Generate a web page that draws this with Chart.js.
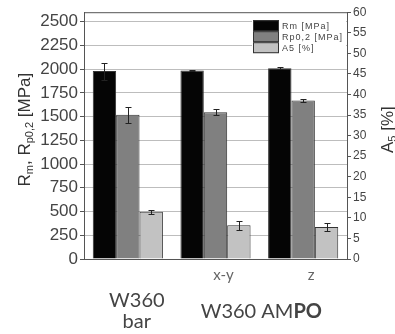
<!DOCTYPE html>
<html>
<head>
<meta charset="utf-8">
<script src="https://cdn.jsdelivr.net/npm/chart.js@4.4.1/dist/chart.umd.min.js"></script>
<style>
html, body { margin: 0; padding: 0; background: #fff; }
#wrap { width: 395px; height: 334px; }
</style>
</head>
<body>
<div id="wrap"><canvas id="chart" width="395" height="334"></canvas></div>
<script>
// === Data ===
const tickLabelsX = ["", "x-y", "z"];
const seriesNames = ["Rm [MPa]", "Rp0,2 [MPa]", "A5 [%]"];
const rmValues = [1980, 1985, 2010];
const rmErrors = [90, 8, 10];
const rpValues = [1520, 1545, 1670];
const rpErrors = [85, 30, 15];
const a5Values = [11.5, 8.2, 7.8];
const a5Errors = [0.5, 1.1, 0.9];
const leftTicks = [0, 250, 500, 750, 1000, 1250, 1500, 1750, 2000, 2250, 2500];
const rightTicks = [0, 5, 10, 15, 20, 25, 30, 35, 40, 45, 50, 55, 60];

const seriesColors = ["#050505", "#808080", "#c2c2c2"];
const errorSets = [rmErrors, rpErrors, a5Errors];

// === Plugins ===
const errorBarPlugin = {
    id: "errorBars",
    afterDatasetsDraw(chart) {
        const ctx = chart.ctx;
        ctx.save();
        ctx.strokeStyle = "#222";
        ctx.lineWidth = 1;
        chart.data.datasets.forEach((ds, i) => {
            const meta = chart.getDatasetMeta(i);
            const scale = chart.scales[meta.yAxisID];
            meta.data.forEach((bar, j) => {
                const v = ds.data[j];
                const e = errorSets[i][j];
                const yTop = Math.round(scale.getPixelForValue(v + e)) + 0.5;
                const yBot = Math.round(scale.getPixelForValue(v - e)) + 0.5;
                const x = Math.round(bar.x) + 0.5;
                ctx.beginPath();
                ctx.moveTo(x, yTop); ctx.lineTo(x, yBot);
                ctx.moveTo(x - 3, yTop); ctx.lineTo(x + 3, yTop);
                ctx.moveTo(x - 3, yBot); ctx.lineTo(x + 3, yBot);
                ctx.stroke();
            });
        });
        ctx.restore();
    }
};

const legendPlugin = {
    id: "boxLegend",
    afterDatasetsDraw(chart) {
        const ctx = chart.ctx;
        const area = chart.chartArea;
        const left = area.right - 95;
        const top = area.top + 6;
        ctx.save();
        ctx.fillStyle = "#fff";
        ctx.fillRect(left, top, 94, 38);
        ctx.font = "9px 'Liberation Sans', Arial, sans-serif";
        ctx.letterSpacing = "1px";
        ctx.textBaseline = "middle";
        chart.data.datasets.forEach((ds, i) => {
            const y = top + 2 + i * 11;
            ctx.fillStyle = ds.backgroundColor;
            ctx.fillRect(left + 1, y, 26, 11);
            ctx.strokeStyle = "#333";
            ctx.lineWidth = 1;
            ctx.strokeRect(left + 1.5, y + 0.5, 25, 10);
            ctx.fillStyle = "#444";
            ctx.fillText(ds.label, left + 30, y + 6);
        });
        ctx.restore();
    }
};

function drawRich(ctx, parts, x, y, size) {
    // parts: [text, isSub]
    const big = size + "px 'Liberation Sans', Arial, sans-serif";
    const small = Math.round(size * 0.62) + "px 'Liberation Sans', Arial, sans-serif";
    let total = 0;
    parts.forEach(p => { ctx.font = p[1] ? small : big; total += ctx.measureText(p[0]).width; });
    let cx = x - total / 2;
    parts.forEach(p => {
        ctx.font = p[1] ? small : big;
        ctx.fillText(p[0], cx, p[1] ? y + size * 0.3 : y);
        cx += ctx.measureText(p[0]).width;
    });
}

const titlesPlugin = {
    id: "titles",
    afterDraw(chart) {
        const ctx = chart.ctx;
        const area = chart.chartArea;
        const midY = (area.top + area.bottom) / 2 - 6;
        ctx.save();
        // plot frame
        ctx.strokeStyle = "#555";
        ctx.lineWidth = 1;
        ctx.strokeRect(area.left + 0.5, area.top + 0.5, area.right - area.left, area.bottom - area.top);

        ctx.fillStyle = "#333";
        ctx.textBaseline = "middle";
        ctx.save();
        ctx.translate(25, midY);
        ctx.rotate(-Math.PI / 2);
        drawRich(ctx, [["R", false], ["m", true], [", R", false], ["p0,2", true], [" [MPa]", false]], 0, 0, 17);
        ctx.restore();

        ctx.save();
        ctx.translate(388, midY);
        ctx.rotate(-Math.PI / 2);
        drawRich(ctx, [["A", false], ["5", true], [" [%]", false]], 0, 0, 17);
        ctx.restore();

        // group labels below the axis
        const xs = chart.scales.x;
        ctx.fillStyle = "#444";
        ctx.textAlign = "center";
        const normal = "20px Lato, 'Open Sans', sans-serif";
        const bold = "bold 20px Lato, 'Open Sans', sans-serif";
        ctx.font = normal;
        const g1 = xs.getPixelForValue(0) + 9;
        ctx.fillText("W360", g1, 301);
        ctx.fillText("bar", g1, 322);

        const g2 = (xs.getPixelForValue(1) + xs.getPixelForValue(2)) / 2 + 2;
        ctx.textAlign = "left";
        const w1 = ctx.measureText("W360 AM").width;
        ctx.font = bold;
        const w2 = ctx.measureText("PO").width;
        let sx = g2 - (w1 + w2) / 2;
        ctx.font = normal;
        ctx.fillText("W360 AM", sx, 312);
        ctx.font = bold;
        ctx.fillText("PO", sx + w1, 312);
        ctx.restore();
    }
};

// === Chart ===
const leftFont = { family: "'Liberation Sans', Arial, sans-serif", size: 17 };
const rightFont = { family: "'Liberation Sans', Arial, sans-serif", size: 12 };

new Chart(document.getElementById("chart"), {
    type: "bar",
    data: {
        labels: tickLabelsX,
        datasets: [
            { label: seriesNames[0], data: rmValues, yAxisID: "y", backgroundColor: seriesColors[0] },
            { label: seriesNames[1], data: rpValues, yAxisID: "y", backgroundColor: seriesColors[1] },
            { label: seriesNames[2], data: a5Values, yAxisID: "y1", backgroundColor: seriesColors[2] }
        ].map(ds => Object.assign(ds, {
            borderColor: "#333",
            borderWidth: 1,
            barPercentage: 1,
            categoryPercentage: 0.8
        }))
    },
    options: {
        responsive: false,
        animation: false,
        layout: { padding: { top: 11, left: 0, right: 0, bottom: 0 } },
        plugins: { legend: { display: false }, tooltip: { enabled: false } },
        scales: {
            x: {
                grid: { display: false, drawTicks: false },
                border: { display: false },
                ticks: { color: "#666", font: { family: "Lato, sans-serif", size: 15 }, padding: 7, labelOffset: 8 },
                afterFit(scale) { scale.height = 75; }
            },
            y: {
                position: "left",
                min: 0,
                max: 2600,
                afterBuildTicks(scale) { scale.ticks = leftTicks.map(v => ({ value: v })); },
                grid: { color: "#bdbdbd", tickColor: "#555", tickLength: 4 },
                border: { display: true, color: "#555" },
                ticks: { color: "#444", font: leftFont, padding: 2, callback: v => String(v) },
                afterFit(scale) { scale.width = 84; }
            },
            y1: {
                position: "right",
                min: 0,
                max: 60,
                afterBuildTicks(scale) { scale.ticks = rightTicks.map(v => ({ value: v })); },
                grid: { drawOnChartArea: false, tickColor: "#555", tickLength: 4 },
                border: { display: true, color: "#555" },
                ticks: { color: "#444", font: rightFont, padding: 2, callback: v => String(v) },
                afterFit(scale) { scale.width = 48; }
            }
        }
    },
    plugins: [errorBarPlugin, legendPlugin, titlesPlugin]
});
</script>
</body>
</html>
